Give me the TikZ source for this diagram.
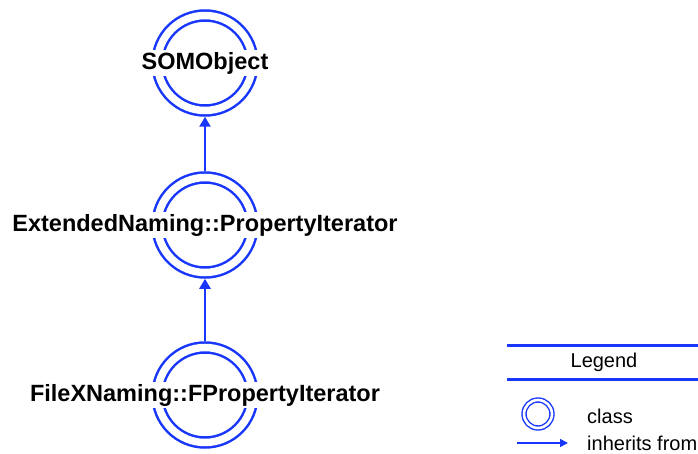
\documentclass[tikz,border=0pt]{standalone}
\usepackage{fontspec}
\setmainfont{Liberation Sans}
\usetikzlibrary{arrows.meta}
\definecolor{umlblue}{RGB}{25,55,250}
\begin{document}
\begin{tikzpicture}[x=1pt,y=-1pt,
  cls/.style={circle,draw=umlblue,double=white,double distance=7.5pt,line width=2.5pt,minimum size=95pt,inner sep=0pt,outer sep=6.25pt},
  legcls/.style={circle,draw=umlblue,double=white,double distance=2.6pt,line width=1.4pt,minimum size=28pt,inner sep=0pt,outer sep=2.7pt},
  clslabel/.style={fill=white,inner sep=2pt,font=\fontsize{23.5}{26}\selectfont\bfseries},
  inherit/.style={draw=umlblue,line width=2.5pt,-{Triangle[width=11pt,length=10pt]}},
  leginherit/.style={draw=umlblue,line width=1.6pt,-{Triangle[width=8pt,length=8pt]}},
  legline/.style={draw=umlblue,line width=3pt},
  legtext/.style={font=\fontsize{20}{24}\selectfont,inner sep=0pt}
]
\useasboundingbox (0,0) rectangle (698,454);

% classes
\node[cls] (a) at (205,63) {};
\node[cls] (b) at (205,225) {};
\node[cls] (c) at (205,395) {};
\node[clslabel] (al) at (a) {SOMObject};
\node[clslabel] (bl) at (b) {ExtendedNaming::PropertyIterator};
\node[clslabel] (cl) at (c) {FileXNaming::FPropertyIterator};

% inheritance
\draw[inherit] (b.north) -- (a.south);
\draw[inherit] (c.north) -- (b.south);

% legend
\coordinate (l1a) at (507,345);
\coordinate (l1b) at (698,345);
\coordinate (l2a) at (507,379);
\coordinate (l2b) at (698,379);
\draw[legline] (l1a) -- (l1b);
\draw[legline] (l2a) -- (l2b);
\node[legtext] (legend) at (604,362) {Legend};
\node[legcls] (legc) at (538,414) {};
\node[legtext,anchor=west] (clstxt) at (587,416) {class};
\coordinate (arra) at (517,443);
\coordinate (arrb) at (568,443);
\draw[leginherit] (arra) -- (arrb);
\node[legtext,anchor=west] (inhtxt) at (587,443) {inherits from};
\end{tikzpicture}
\end{document}
